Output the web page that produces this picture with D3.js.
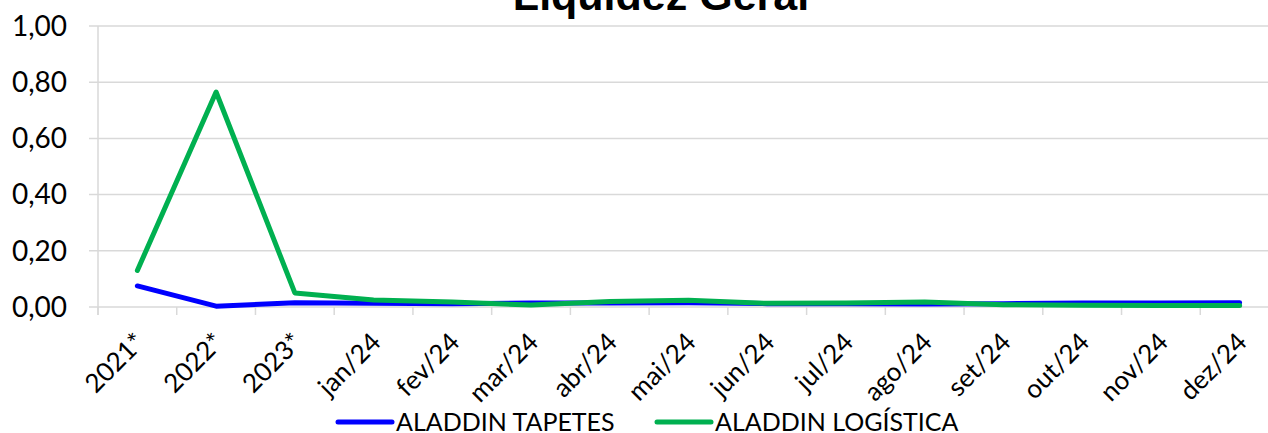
<!DOCTYPE html>
<html lang="pt">
<head>
<meta charset="utf-8">
<title>Liquidez Geral</title>
<script src="https://cdnjs.cloudflare.com/ajax/libs/d3/7.8.5/d3.min.js"></script>
<style>
  body { margin: 0; background: #fff; }
  svg { display: block; }
</style>
</head>
<body>
<div id="chart"></div>
<script>
// chart data
var categories = ["2021*", "2022*", "2023*", "jan/24", "fev/24", "mar/24", "abr/24", "mai/24",
                  "jun/24", "jul/24", "ago/24", "set/24", "out/24", "nov/24", "dez/24"];
var tapetes = [0.075, 0.003, 0.015, 0.013, 0.012, 0.014, 0.014, 0.015, 0.012, 0.012, 0.011, 0.012, 0.014, 0.014, 0.015];
var logistica = [0.13, 0.765, 0.05, 0.025, 0.018, 0.007, 0.02, 0.024, 0.013, 0.014, 0.018, 0.008, 0.006, 0.005, 0.005];
var yTicks = [0, 0.2, 0.4, 0.6, 0.8, 1.0];
var seriesNames = ["ALADDIN TAPETES", "ALADDIN LOGÍSTICA"];
var seriesColors = ["#0000ff", "#00b050"];

var W = 1268, H = 433;
var mLeft = 98, mRight = 1279, mTop = 26, mBottom = 307;

var svg = d3.select("#chart").append("svg")
    .attr("width", W).attr("height", H);

var x = d3.scaleBand().domain(categories).range([mLeft, mRight]);
var y = d3.scaleLinear().domain([0, 1]).range([mBottom, mTop]);

// gridlines
svg.append("g").selectAll("line").data(yTicks).join("line")
    .attr("x1", mLeft - 9).attr("x2", mRight)
    .attr("y1", d => y(d)).attr("y2", d => y(d))
    .attr("stroke", "#d9d9d9").attr("stroke-width", 1.5);

// y axis line
svg.append("line")
    .attr("x1", mLeft).attr("x2", mLeft)
    .attr("y1", mTop).attr("y2", mBottom + 8)
    .attr("stroke", "#d9d9d9").attr("stroke-width", 1.5);

// y labels
var fmt = d => d3.format(".2f")(d).replace(".", ",");
svg.append("g").selectAll("text").data(yTicks).join("text")
    .attr("x", 67).attr("y", d => y(d))
    .attr("dy", "0.35em")
    .attr("text-anchor", "end")
    .attr("font-family", "Lato, 'Open Sans', sans-serif")
    .attr("font-size", 28)
    .text(fmt);

// x tick marks at band boundaries
var bounds = categories.map(c => x(c)).concat([mRight]);
svg.append("g").selectAll("line").data(bounds).join("line")
    .attr("x1", d => d).attr("x2", d => d)
    .attr("y1", mBottom).attr("y2", mBottom + 8)
    .attr("stroke", "#d9d9d9").attr("stroke-width", 1.5);

// x labels rotated
svg.append("g").selectAll("text").data(categories).join("text")
    .attr("transform", d => "translate(" + (x(d) + x.bandwidth() / 2 - 4) + "," + (mBottom + 24) + ") rotate(-45)")
    .attr("text-anchor", "end")
    .attr("dy", "0.7em")
    .attr("font-family", "Lato, 'Open Sans', sans-serif")
    .attr("font-size", 26)
    .text(d => d);

// lines
var line = d3.line()
    .x((d, i) => x(categories[i]) + x.bandwidth() / 2)
    .y(d => y(d));

[tapetes, logistica].forEach(function (s, i) {
    svg.append("path")
        .attr("d", line(s))
        .attr("fill", "none")
        .attr("stroke", seriesColors[i])
        .attr("stroke-width", 5)
        .attr("stroke-linejoin", "round")
        .attr("stroke-linecap", "round");
});

// title
svg.append("text")
    .attr("x", 661).attr("y", 10)
    .attr("text-anchor", "middle")
    .attr("font-family", "'Liberation Sans', Arial, sans-serif")
    .attr("font-weight", "bold")
    .attr("font-size", 43)
    .text("Liquidez Geral");

// legend
var legendX = [338, 657];
seriesNames.forEach(function (name, i) {
    var g = svg.append("g").attr("transform", "translate(" + legendX[i] + ",422)");
    g.append("line").attr("x1", 0).attr("x2", 54)
        .attr("stroke", seriesColors[i]).attr("stroke-width", 5).attr("stroke-linecap", "round");
    g.append("text").attr("x", 58).attr("dy", "0.35em")
        .attr("font-family", "Lato, 'Open Sans', sans-serif")
        .attr("font-size", 25)
        .text(name);
});
</script>
</body>
</html>
